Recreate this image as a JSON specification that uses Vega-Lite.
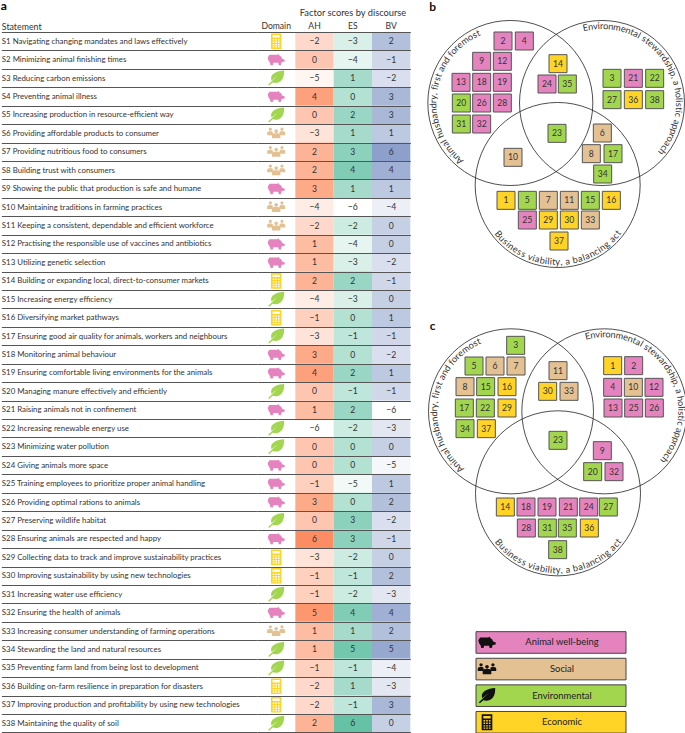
{
"$schema":"https://vega.github.io/schema/vega-lite/v6.json",
"padding":0,
"background":"white",
"spacing":11,
"config":{"view":{"stroke":null},"text":{"font":"Lato"},"font":"Lato"},
"datasets":{
"statements":[
{"id":"S1","statement":"S1 Navigating changing mandates and laws effectively","domain":"Economic"},
{"id":"S2","statement":"S2 Minimizing animal finishing times","domain":"Animal well-being"},
{"id":"S3","statement":"S3 Reducing carbon emissions","domain":"Environmental"},
{"id":"S4","statement":"S4 Preventing animal illness","domain":"Animal well-being"},
{"id":"S5","statement":"S5 Increasing production in resource-efficient way","domain":"Environmental"},
{"id":"S6","statement":"S6 Providing affordable products to consumer","domain":"Social"},
{"id":"S7","statement":"S7 Providing nutritious food to consumers","domain":"Social"},
{"id":"S8","statement":"S8 Building trust with consumers","domain":"Social"},
{"id":"S9","statement":"S9 Showing the public that production is safe and humane","domain":"Animal well-being"},
{"id":"S10","statement":"S10 Maintaining traditions in farming practices","domain":"Social"},
{"id":"S11","statement":"S11 Keeping a consistent, dependable and efficient workforce","domain":"Social"},
{"id":"S12","statement":"S12 Practising the responsible use of vaccines and antibiotics","domain":"Animal well-being"},
{"id":"S13","statement":"S13 Utilizing genetic selection","domain":"Animal well-being"},
{"id":"S14","statement":"S14 Building or expanding local, direct-to-consumer markets","domain":"Economic"},
{"id":"S15","statement":"S15 Increasing energy efficiency","domain":"Environmental"},
{"id":"S16","statement":"S16 Diversifying market pathways","domain":"Economic"},
{"id":"S17","statement":"S17 Ensuring good air quality for animals, workers and neighbours","domain":"Environmental"},
{"id":"S18","statement":"S18 Monitoring animal behaviour","domain":"Animal well-being"},
{"id":"S19","statement":"S19 Ensuring comfortable living environments for the animals","domain":"Animal well-being"},
{"id":"S20","statement":"S20 Managing manure effectively and efficiently","domain":"Environmental"},
{"id":"S21","statement":"S21 Raising animals not in confinement","domain":"Animal well-being"},
{"id":"S22","statement":"S22 Increasing renewable energy use","domain":"Environmental"},
{"id":"S23","statement":"S23 Minimizing water pollution","domain":"Environmental"},
{"id":"S24","statement":"S24 Giving animals more space","domain":"Animal well-being"},
{"id":"S25","statement":"S25 Training employees to prioritize proper animal handling","domain":"Animal well-being"},
{"id":"S26","statement":"S26 Providing optimal rations to animals","domain":"Animal well-being"},
{"id":"S27","statement":"S27 Preserving wildlife habitat","domain":"Environmental"},
{"id":"S28","statement":"S28 Ensuring animals are respected and happy","domain":"Animal well-being"},
{"id":"S29","statement":"S29 Collecting data to track and improve sustainability practices","domain":"Economic"},
{"id":"S30","statement":"S30 Improving sustainability by using new technologies","domain":"Economic"},
{"id":"S31","statement":"S31 Increasing water use efficiency","domain":"Environmental"},
{"id":"S32","statement":"S32 Ensuring the health of animals","domain":"Animal well-being"},
{"id":"S33","statement":"S33 Increasing consumer understanding of farming operations","domain":"Social"},
{"id":"S34","statement":"S34 Stewarding the land and natural resources","domain":"Environmental"},
{"id":"S35","statement":"S35 Preventing farm land from being lost to development","domain":"Environmental"},
{"id":"S36","statement":"S36 Building on-farm resilience in preparation for disasters","domain":"Economic"},
{"id":"S37","statement":"S37 Improving production and profitability by using new technologies","domain":"Economic"},
{"id":"S38","statement":"S38 Maintaining the quality of soil","domain":"Environmental"}
],
"scores":[
{"id":"S1","discourse":"AH","score":-2},{"id":"S1","discourse":"ES","score":-3},{"id":"S1","discourse":"BV","score":2},
{"id":"S2","discourse":"AH","score":0},{"id":"S2","discourse":"ES","score":-4},{"id":"S2","discourse":"BV","score":-1},
{"id":"S3","discourse":"AH","score":-5},{"id":"S3","discourse":"ES","score":1},{"id":"S3","discourse":"BV","score":-2},
{"id":"S4","discourse":"AH","score":4},{"id":"S4","discourse":"ES","score":0},{"id":"S4","discourse":"BV","score":3},
{"id":"S5","discourse":"AH","score":0},{"id":"S5","discourse":"ES","score":2},{"id":"S5","discourse":"BV","score":3},
{"id":"S6","discourse":"AH","score":-3},{"id":"S6","discourse":"ES","score":1},{"id":"S6","discourse":"BV","score":1},
{"id":"S7","discourse":"AH","score":2},{"id":"S7","discourse":"ES","score":3},{"id":"S7","discourse":"BV","score":6},
{"id":"S8","discourse":"AH","score":2},{"id":"S8","discourse":"ES","score":4},{"id":"S8","discourse":"BV","score":4},
{"id":"S9","discourse":"AH","score":3},{"id":"S9","discourse":"ES","score":1},{"id":"S9","discourse":"BV","score":1},
{"id":"S10","discourse":"AH","score":-4},{"id":"S10","discourse":"ES","score":-6},{"id":"S10","discourse":"BV","score":-4},
{"id":"S11","discourse":"AH","score":-2},{"id":"S11","discourse":"ES","score":-2},{"id":"S11","discourse":"BV","score":0},
{"id":"S12","discourse":"AH","score":1},{"id":"S12","discourse":"ES","score":-4},{"id":"S12","discourse":"BV","score":0},
{"id":"S13","discourse":"AH","score":1},{"id":"S13","discourse":"ES","score":-3},{"id":"S13","discourse":"BV","score":-2},
{"id":"S14","discourse":"AH","score":2},{"id":"S14","discourse":"ES","score":2},{"id":"S14","discourse":"BV","score":-1},
{"id":"S15","discourse":"AH","score":-4},{"id":"S15","discourse":"ES","score":-3},{"id":"S15","discourse":"BV","score":0},
{"id":"S16","discourse":"AH","score":-1},{"id":"S16","discourse":"ES","score":0},{"id":"S16","discourse":"BV","score":1},
{"id":"S17","discourse":"AH","score":-3},{"id":"S17","discourse":"ES","score":-1},{"id":"S17","discourse":"BV","score":-1},
{"id":"S18","discourse":"AH","score":3},{"id":"S18","discourse":"ES","score":0},{"id":"S18","discourse":"BV","score":-2},
{"id":"S19","discourse":"AH","score":4},{"id":"S19","discourse":"ES","score":2},{"id":"S19","discourse":"BV","score":1},
{"id":"S20","discourse":"AH","score":0},{"id":"S20","discourse":"ES","score":-1},{"id":"S20","discourse":"BV","score":-1},
{"id":"S21","discourse":"AH","score":1},{"id":"S21","discourse":"ES","score":2},{"id":"S21","discourse":"BV","score":-6},
{"id":"S22","discourse":"AH","score":-6},{"id":"S22","discourse":"ES","score":-2},{"id":"S22","discourse":"BV","score":-3},
{"id":"S23","discourse":"AH","score":0},{"id":"S23","discourse":"ES","score":0},{"id":"S23","discourse":"BV","score":0},
{"id":"S24","discourse":"AH","score":0},{"id":"S24","discourse":"ES","score":0},{"id":"S24","discourse":"BV","score":-5},
{"id":"S25","discourse":"AH","score":-1},{"id":"S25","discourse":"ES","score":-5},{"id":"S25","discourse":"BV","score":1},
{"id":"S26","discourse":"AH","score":3},{"id":"S26","discourse":"ES","score":0},{"id":"S26","discourse":"BV","score":2},
{"id":"S27","discourse":"AH","score":0},{"id":"S27","discourse":"ES","score":3},{"id":"S27","discourse":"BV","score":-2},
{"id":"S28","discourse":"AH","score":6},{"id":"S28","discourse":"ES","score":3},{"id":"S28","discourse":"BV","score":-1},
{"id":"S29","discourse":"AH","score":-3},{"id":"S29","discourse":"ES","score":-2},{"id":"S29","discourse":"BV","score":0},
{"id":"S30","discourse":"AH","score":-1},{"id":"S30","discourse":"ES","score":-1},{"id":"S30","discourse":"BV","score":2},
{"id":"S31","discourse":"AH","score":-1},{"id":"S31","discourse":"ES","score":-2},{"id":"S31","discourse":"BV","score":-3},
{"id":"S32","discourse":"AH","score":5},{"id":"S32","discourse":"ES","score":4},{"id":"S32","discourse":"BV","score":4},
{"id":"S33","discourse":"AH","score":1},{"id":"S33","discourse":"ES","score":1},{"id":"S33","discourse":"BV","score":2},
{"id":"S34","discourse":"AH","score":1},{"id":"S34","discourse":"ES","score":5},{"id":"S34","discourse":"BV","score":5},
{"id":"S35","discourse":"AH","score":-1},{"id":"S35","discourse":"ES","score":-1},{"id":"S35","discourse":"BV","score":-4},
{"id":"S36","discourse":"AH","score":-2},{"id":"S36","discourse":"ES","score":1},{"id":"S36","discourse":"BV","score":-3},
{"id":"S37","discourse":"AH","score":-2},{"id":"S37","discourse":"ES","score":-1},{"id":"S37","discourse":"BV","score":3},
{"id":"S38","discourse":"AH","score":2},{"id":"S38","discourse":"ES","score":6},{"id":"S38","discourse":"BV","score":0}
],
"domains":[{"domain":"Animal well-being"},{"domain":"Social"},{"domain":"Environmental"},{"domain":"Economic"}],
"arcLabels":[
{"circle":"AH","ch":"A","deg":221.5},{"circle":"AH","ch":"n","deg":225.7},{"circle":"AH","ch":"i","deg":228.6},{"circle":"AH","ch":"m","deg":232.5},{"circle":"AH","ch":"a","deg":237.4},{"circle":"AH","ch":"l","deg":240.2},
{"circle":"AH","ch":"h","deg":245.0},{"circle":"AH","ch":"u","deg":248.9},{"circle":"AH","ch":"s","deg":252.6},{"circle":"AH","ch":"b","deg":256.3},{"circle":"AH","ch":"a","deg":260.1},{"circle":"AH","ch":"n","deg":264.0},{"circle":"AH","ch":"d","deg":267.9},{"circle":"AH","ch":"r","deg":271.1},{"circle":"AH","ch":"y","deg":274.1},{"circle":"AH","ch":",","deg":276.8},
{"circle":"AH","ch":"f","deg":280.9},{"circle":"AH","ch":"i","deg":283.0},{"circle":"AH","ch":"r","deg":285.2},{"circle":"AH","ch":"s","deg":288.2},{"circle":"AH","ch":"t","deg":291.3},
{"circle":"AH","ch":"a","deg":296.4},{"circle":"AH","ch":"n","deg":300.2},{"circle":"AH","ch":"d","deg":304.1},
{"circle":"AH","ch":"f","deg":309.2},{"circle":"AH","ch":"o","deg":312.4},{"circle":"AH","ch":"r","deg":315.6},{"circle":"AH","ch":"e","deg":318.8},{"circle":"AH","ch":"m","deg":323.7},{"circle":"AH","ch":"o","deg":328.6},{"circle":"AH","ch":"s","deg":332.3},{"circle":"AH","ch":"t","deg":335.3},
{"circle":"ES","ch":"E","deg":347.5},{"circle":"ES","ch":"n","deg":351.4},{"circle":"ES","ch":"v","deg":355.0},{"circle":"ES","ch":"i","deg":357.6},{"circle":"ES","ch":"r","deg":359.7},{"circle":"ES","ch":"o","deg":2.8},{"circle":"ES","ch":"n","deg":6.6},{"circle":"ES","ch":"m","deg":11.3},{"circle":"ES","ch":"e","deg":16.1},{"circle":"ES","ch":"n","deg":19.9},{"circle":"ES","ch":"t","deg":23.0},{"circle":"ES","ch":"a","deg":26.1},{"circle":"ES","ch":"l","deg":28.9},
{"circle":"ES","ch":"s","deg":33.3},{"circle":"ES","ch":"t","deg":36.3},{"circle":"ES","ch":"e","deg":39.4},{"circle":"ES","ch":"w","deg":43.9},{"circle":"ES","ch":"a","deg":48.5},{"circle":"ES","ch":"r","deg":51.6},{"circle":"ES","ch":"d","deg":54.7},{"circle":"ES","ch":"s","deg":58.3},{"circle":"ES","ch":"h","deg":61.9},{"circle":"ES","ch":"i","deg":64.7},{"circle":"ES","ch":"p","deg":67.4},{"circle":"ES","ch":",","deg":70.2},
{"circle":"ES","ch":"a","deg":74.9},
{"circle":"ES","ch":"h","deg":80.5},{"circle":"ES","ch":"o","deg":84.2},{"circle":"ES","ch":"l","deg":87.0},{"circle":"ES","ch":"i","deg":88.8},{"circle":"ES","ch":"s","deg":91.4},{"circle":"ES","ch":"t","deg":94.4},{"circle":"ES","ch":"i","deg":96.5},{"circle":"ES","ch":"c","deg":99.1},
{"circle":"ES","ch":"a","deg":104.6},{"circle":"ES","ch":"p","deg":108.3},{"circle":"ES","ch":"p","deg":112.1},{"circle":"ES","ch":"r","deg":115.2},{"circle":"ES","ch":"o","deg":118.3},{"circle":"ES","ch":"a","deg":122.1},{"circle":"ES","ch":"c","deg":125.7},{"circle":"ES","ch":"h","deg":129.3},
{"circle":"BV","ch":"B","deg":230.4},{"circle":"BV","ch":"u","deg":226.3},{"circle":"BV","ch":"s","deg":222.6},{"circle":"BV","ch":"i","deg":220.0},{"circle":"BV","ch":"n","deg":217.2},{"circle":"BV","ch":"e","deg":213.3},{"circle":"BV","ch":"s","deg":209.7},{"circle":"BV","ch":"s","deg":206.2},
{"circle":"BV","ch":"v","deg":200.8},{"circle":"BV","ch":"i","deg":198.2},{"circle":"BV","ch":"a","deg":195.4},{"circle":"BV","ch":"b","deg":191.5},{"circle":"BV","ch":"i","deg":188.7},{"circle":"BV","ch":"l","deg":186.9},{"circle":"BV","ch":"i","deg":185.1},{"circle":"BV","ch":"t","deg":182.9},{"circle":"BV","ch":"y","deg":180.0},{"circle":"BV","ch":",","deg":177.3},
{"circle":"BV","ch":"a","deg":172.6},
{"circle":"BV","ch":"b","deg":166.9},{"circle":"BV","ch":"a","deg":163.1},{"circle":"BV","ch":"l","deg":160.2},{"circle":"BV","ch":"a","deg":157.4},{"circle":"BV","ch":"n","deg":153.6},{"circle":"BV","ch":"c","deg":150.0},{"circle":"BV","ch":"i","deg":147.3},{"circle":"BV","ch":"n","deg":144.5},{"circle":"BV","ch":"g","deg":140.6},
{"circle":"BV","ch":"a","deg":134.9},{"circle":"BV","ch":"c","deg":131.3},{"circle":"BV","ch":"t","deg":128.3}
],
"tilesB":[
{"num":2,"x":243,"y":120,"domain":"Animal well-being"},{"num":4,"x":307,"y":120,"domain":"Animal well-being"},{"num":9,"x":179,"y":181,"domain":"Animal well-being"},{"num":12,"x":241,"y":181,"domain":"Animal well-being"},{"num":13,"x":117,"y":244,"domain":"Animal well-being"},{"num":18,"x":179,"y":244,"domain":"Animal well-being"},{"num":19,"x":241,"y":244,"domain":"Animal well-being"},{"num":20,"x":118,"y":306,"domain":"Environmental"},{"num":26,"x":179,"y":306,"domain":"Animal well-being"},{"num":28,"x":241,"y":306,"domain":"Animal well-being"},{"num":31,"x":118,"y":369,"domain":"Environmental"},{"num":32,"x":179,"y":369,"domain":"Animal well-being"},
{"num":14,"x":408,"y":188,"domain":"Economic"},{"num":24,"x":375,"y":249,"domain":"Animal well-being"},{"num":35,"x":436,"y":249,"domain":"Environmental"},
{"num":3,"x":570,"y":232,"domain":"Environmental"},{"num":21,"x":634,"y":232,"domain":"Animal well-being"},{"num":22,"x":698,"y":232,"domain":"Environmental"},{"num":27,"x":570,"y":296,"domain":"Environmental"},{"num":36,"x":634,"y":296,"domain":"Economic"},{"num":38,"x":698,"y":296,"domain":"Environmental"},
{"num":23,"x":405,"y":397,"domain":"Environmental"},{"num":10,"x":273,"y":469,"domain":"Social"},
{"num":6,"x":541,"y":396,"domain":"Social"},{"num":8,"x":508,"y":458,"domain":"Social"},{"num":17,"x":573,"y":458,"domain":"Environmental"},{"num":34,"x":542,"y":519,"domain":"Environmental"},
{"num":1,"x":252,"y":598,"domain":"Economic"},{"num":5,"x":316,"y":598,"domain":"Environmental"},{"num":7,"x":379,"y":598,"domain":"Social"},{"num":11,"x":442,"y":598,"domain":"Social"},{"num":15,"x":505,"y":598,"domain":"Environmental"},{"num":16,"x":568,"y":598,"domain":"Economic"},
{"num":25,"x":316,"y":657,"domain":"Animal well-being"},{"num":29,"x":379,"y":657,"domain":"Economic"},{"num":30,"x":442,"y":657,"domain":"Economic"},{"num":33,"x":505,"y":657,"domain":"Social"},{"num":37,"x":411,"y":720,"domain":"Economic"}
],
"tilesC":[
{"num":3,"x":281,"y":103,"domain":"Environmental"},{"num":5,"x":156,"y":165,"domain":"Environmental"},{"num":6,"x":219,"y":165,"domain":"Social"},{"num":7,"x":282,"y":165,"domain":"Social"},{"num":8,"x":129,"y":227,"domain":"Social"},{"num":15,"x":191,"y":227,"domain":"Environmental"},{"num":16,"x":255,"y":227,"domain":"Economic"},{"num":17,"x":127,"y":291,"domain":"Environmental"},{"num":22,"x":190,"y":291,"domain":"Environmental"},{"num":29,"x":255,"y":291,"domain":"Economic"},{"num":34,"x":129,"y":353,"domain":"Environmental"},{"num":37,"x":193,"y":353,"domain":"Economic"},
{"num":11,"x":408,"y":179,"domain":"Social"},{"num":30,"x":377,"y":241,"domain":"Economic"},{"num":33,"x":441,"y":241,"domain":"Social"},
{"num":1,"x":572,"y":164,"domain":"Economic"},{"num":2,"x":635,"y":164,"domain":"Animal well-being"},{"num":4,"x":572,"y":229,"domain":"Animal well-being"},{"num":10,"x":634,"y":229,"domain":"Social"},{"num":12,"x":696,"y":229,"domain":"Animal well-being"},{"num":13,"x":573,"y":291,"domain":"Animal well-being"},{"num":25,"x":635,"y":291,"domain":"Animal well-being"},{"num":26,"x":697,"y":291,"domain":"Animal well-being"},
{"num":23,"x":408,"y":388,"domain":"Environmental"},{"num":9,"x":541,"y":419,"domain":"Animal well-being"},{"num":20,"x":512,"y":482,"domain":"Environmental"},{"num":32,"x":576,"y":482,"domain":"Animal well-being"},
{"num":14,"x":250,"y":588,"domain":"Economic"},{"num":18,"x":312,"y":588,"domain":"Animal well-being"},{"num":19,"x":375,"y":588,"domain":"Animal well-being"},{"num":21,"x":439,"y":588,"domain":"Animal well-being"},{"num":24,"x":500,"y":588,"domain":"Animal well-being"},{"num":27,"x":559,"y":588,"domain":"Environmental"},
{"num":28,"x":313,"y":651,"domain":"Animal well-being"},{"num":31,"x":376,"y":651,"domain":"Environmental"},{"num":35,"x":436,"y":651,"domain":"Environmental"},{"num":36,"x":502,"y":651,"domain":"Economic"},{"num":38,"x":407,"y":716,"domain":"Environmental"}
]
},
"hconcat":[
{
"spacing":-2,
"vconcat":[
{"width":1,"height":1,"data":{"values":[]},"mark":"point"},
{
"width":153.33,
"height":700.4,
"title":{"text":"a","anchor":"start","frame":"bounds","font":"Lato","fontSize":12,"fontWeight":"bold","offset":-5},
"data":{"name":"scores"},
"transform":[{"lookup":"id","from":{"data":{"name":"statements"},"key":"id","fields":["statement"]}}],
"encoding":{
"x":{"type":"nominal","scale":{"domain":["Domain","AH","ES","BV"],"paddingInner":0,"paddingOuter":0},
"axis":{"orient":"top","domain":false,"ticks":false,"labelAngle":0,"labelPadding":2,"labelFont":"Lato","labelFontSize":8.6,"labelColor":"#333","title":"Factor scores by discourse","titleFont":"Lato","titleFontWeight":"normal","titleFontSize":9.3,"titleColor":"#333","titleX":95.5,"titleY":-19.7,"titleBaseline":"middle"}},
"y":{"field":"statement","type":"nominal","sort":null,"scale":{"paddingInner":0,"paddingOuter":0},
"axis":{"orient":"left","zindex":1,"domain":false,"grid":true,"gridColor":"#555","gridWidth":1,"tickBand":"extent","tickColor":"#555","tickWidth":1,"tickSize":255.67,"labelAlign":"left","labelPadding":0,"labelLimit":0,"labelBound":false,"labelOverlap":false,"labelFont":"Lato","labelFontSize":7.85,"labelColor":"#333","title":"Statement","titleFont":"Lato","titleFontWeight":"normal","titleFontSize":8.8,"titleColor":"#333","titleAngle":0,"titleAlign":"left","titleBaseline":"middle","titleX":-255.67,"titleY":-6}}
},
"resolve":{"scale":{"color":"independent"}},
"layer":[
{"transform":[{"filter":"datum.discourse=='AH'"}],"mark":"rect","encoding":{"x":{"field":"discourse"},"color":{"field":"score","type":"quantitative","scale":{"domain":[-6,6],"range":["#ffffff","#fc8d62"],"interpolate":"rgb"},"legend":null}}},
{"transform":[{"filter":"datum.discourse=='ES'"}],"mark":"rect","encoding":{"x":{"field":"discourse"},"color":{"field":"score","type":"quantitative","scale":{"domain":[-6,6],"range":["#ffffff","#66c2a5"],"interpolate":"rgb"},"legend":null}}},
{"transform":[{"filter":"datum.discourse=='BV'"}],"mark":"rect","encoding":{"x":{"field":"discourse"},"color":{"field":"score","type":"quantitative","scale":{"domain":[-6,6],"range":["#ffffff","#8da0cb"],"interpolate":"rgb"},"legend":null}}},
{"mark":{"type":"text","font":"Lato","fontSize":8.6,"color":"#333"},"encoding":{"x":{"field":"discourse"},"text":{"field":"score","type":"quantitative","format":"d"}}},
{"data":{"name":"statements"},"mark":{"type":"point","filled":true,"opacity":1,"size":400},
"encoding":{"x":{"datum":"Domain"},
"shape":{"field":"domain","type":"nominal","legend":null,"scale":{"domain":["Animal well-being","Social","Environmental","Economic"],"range":[
"M-0.85,-0.2 L-0.68,-0.48 L0.1,-0.48 L0.28,-0.55 L0.34,-0.4 L0.5,-0.32 L0.6,-0.1 L0.86,0 L0.84,0.2 L0.56,0.24 L0.46,0.55 L0.26,0.55 L0.2,0.32 L-0.28,0.32 L-0.34,0.55 L-0.56,0.55 L-0.62,0.3 L-0.76,0.1 Z",
"M-0.74,-0.42 A0.16,0.16 0 1,0 -0.42,-0.42 A0.16,0.16 0 1,0 -0.74,-0.42 Z M0.42,-0.42 A0.16,0.16 0 1,0 0.74,-0.42 A0.16,0.16 0 1,0 0.42,-0.42 Z M-0.18,-0.22 A0.18,0.18 0 1,0 0.18,-0.22 A0.18,0.18 0 1,0 -0.18,-0.22 Z M-0.9,0.2 L-0.9,-0.05 Q-0.9,-0.2 -0.7,-0.2 L-0.46,-0.2 Q-0.32,-0.2 -0.32,-0.05 L-0.42,0.2 Z M0.9,0.2 L0.9,-0.05 Q0.9,-0.2 0.7,-0.2 L0.46,-0.2 Q0.32,-0.2 0.32,-0.05 L0.42,0.2 Z M-0.42,0.5 L-0.42,0.2 Q-0.42,0 -0.2,0 L0.2,0 Q0.42,0 0.42,0.2 L0.42,0.5 Z",
"M0.8,-0.75 C0.85,0.3 0.2,0.62 -0.36,0.44 L-0.7,0.75 L-0.8,0.65 L0.2,-0.28 L-0.46,0.26 C-0.72,-0.4 0.1,-0.72 0.8,-0.75 Z",
"M-0.52,-0.78 L0.52,-0.78 L0.52,0.78 L-0.52,0.78 Z M-0.36,-0.62 L-0.36,-0.38 L0.36,-0.38 L0.36,-0.62 Z M-0.34,-0.22 L-0.34,-0.08 L-0.18,-0.08 L-0.18,-0.22 Z M-0.08,-0.22 L-0.08,-0.08 L0.08,-0.08 L0.08,-0.22 Z M0.18,-0.22 L0.18,-0.08 L0.34,-0.08 L0.34,-0.22 Z M-0.34,0.03 L-0.34,0.17 L-0.18,0.17 L-0.18,0.03 Z M-0.08,0.03 L-0.08,0.17 L0.08,0.17 L0.08,0.03 Z M0.18,0.03 L0.18,0.17 L0.34,0.17 L0.34,0.03 Z M-0.34,0.28 L-0.34,0.42 L-0.18,0.42 L-0.18,0.28 Z M-0.08,0.28 L-0.08,0.42 L0.08,0.42 L0.08,0.28 Z M0.18,0.28 L0.18,0.42 L0.34,0.42 L0.34,0.28 Z M-0.34,0.5 L-0.34,0.64 L-0.18,0.64 L-0.18,0.5 Z M-0.08,0.5 L-0.08,0.64 L0.08,0.64 L0.08,0.5 Z M0.18,0.5 L0.18,0.64 L0.34,0.64 L0.34,0.5 Z"
]}},
"color":{"field":"domain","type":"nominal","legend":null,"scale":{"domain":["Animal well-being","Social","Environmental","Economic"],"range":["#e583bf","#e3c193","#a3d64f","#ffd426"]}}
}}
]
}]
},
{
"spacing":0,
"vconcat":[
{
"width":265,"height":310,
"encoding":{
"x":{"type":"quantitative","axis":null,"scale":{"domain":[0,795],"nice":false,"zero":false}},
"y":{"type":"quantitative","axis":null,"scale":{"domain":[930,0],"nice":false,"zero":false}}
},
"resolve":{"scale":{"angle":"independent"}},
"layer":[
{"data":{"values":[{"circle":"AH","x":265,"y":306},{"circle":"ES","x":540,"y":306},{"circle":"BV","x":407,"y":552}]},"mark":{"type":"point","shape":"circle","filled":false,"size":27225,"stroke":"#222","strokeWidth":0.8,"opacity":1},"encoding":{"x":{"field":"x"},"y":{"field":"y"}}},
{"data":{"name":"arcLabels"},"transform":[{"filter":"datum.circle=='AH'"}],"mark":{"type":"text","font":"Lato","fontSize":9.2,"color":"#333","radius":77},"encoding":{"x":{"datum":265},"y":{"datum":306},"theta":{"field":"deg","type":"quantitative","stack":null,"scale":{"domain":[0,360]}},"angle":{"field":"deg","type":"quantitative","legend":null,"scale":{"domain":[0,360],"range":[0,360]}},"text":{"field":"ch"}}},
{"data":{"name":"arcLabels"},"transform":[{"filter":"datum.circle=='ES'"}],"mark":{"type":"text","font":"Lato","fontSize":9.2,"color":"#333","radius":77},"encoding":{"x":{"datum":540},"y":{"datum":306},"theta":{"field":"deg","type":"quantitative","stack":null,"scale":{"domain":[0,360]}},"angle":{"field":"deg","type":"quantitative","legend":null,"scale":{"domain":[0,360],"range":[0,360]}},"text":{"field":"ch"}}},
{"data":{"name":"arcLabels"},"transform":[{"filter":"datum.circle=='BV'"}],"mark":{"type":"text","font":"Lato","fontSize":9.2,"color":"#333","radius":77},"encoding":{"x":{"datum":407},"y":{"datum":552},"theta":{"field":"deg","type":"quantitative","stack":null,"scale":{"domain":[0,360]}},"angle":{"field":"deg","type":"quantitative","legend":null,"scale":{"domain":[0,360],"range":[-180,180]}},"text":{"field":"ch"}}},
{"data":{"name":"tilesB"},"mark":{"type":"point","shape":"square","filled":true,"size":324,"stroke":"#555","strokeWidth":1,"opacity":1},"encoding":{"x":{"field":"x"},"y":{"field":"y"},"fill":{"field":"domain","type":"nominal","legend":null,"scale":{"domain":["Animal well-being","Social","Environmental","Economic"],"range":["#e583bf","#e3c193","#a3d64f","#ffd426"]}}}},
{"data":{"name":"tilesB"},"mark":{"type":"text","font":"Lato","fontSize":8.6,"color":"#333"},"encoding":{"x":{"field":"x"},"y":{"field":"y"},"text":{"field":"num","type":"quantitative","format":"d"}}},
{"data":{"values":[{"panel":"b"}]},"mark":{"type":"text","font":"Lato","fontSize":12,"fontWeight":"bold","color":"#111"},"encoding":{"x":{"datum":32},"y":{"datum":19},"text":{"field":"panel"}}}
]
},
{
"width":265,"height":310,
"encoding":{
"x":{"type":"quantitative","axis":null,"scale":{"domain":[0,795],"nice":false,"zero":false}},
"y":{"type":"quantitative","axis":null,"scale":{"domain":[930,0],"nice":false,"zero":false}}
},
"resolve":{"scale":{"angle":"independent"}},
"layer":[
{"data":{"values":[{"circle":"AH","x":267,"y":301},{"circle":"ES","x":547,"y":301},{"circle":"BV","x":408,"y":547}]},"mark":{"type":"point","shape":"circle","filled":false,"size":27225,"stroke":"#222","strokeWidth":0.8,"opacity":1},"encoding":{"x":{"field":"x"},"y":{"field":"y"}}},
{"data":{"name":"arcLabels"},"transform":[{"filter":"datum.circle=='AH'"}],"mark":{"type":"text","font":"Lato","fontSize":9.2,"color":"#333","radius":77},"encoding":{"x":{"datum":267},"y":{"datum":301},"theta":{"field":"deg","type":"quantitative","stack":null,"scale":{"domain":[0,360]}},"angle":{"field":"deg","type":"quantitative","legend":null,"scale":{"domain":[0,360],"range":[0,360]}},"text":{"field":"ch"}}},
{"data":{"name":"arcLabels"},"transform":[{"filter":"datum.circle=='ES'"}],"mark":{"type":"text","font":"Lato","fontSize":9.2,"color":"#333","radius":77},"encoding":{"x":{"datum":547},"y":{"datum":301},"theta":{"field":"deg","type":"quantitative","stack":null,"scale":{"domain":[0,360]}},"angle":{"field":"deg","type":"quantitative","legend":null,"scale":{"domain":[0,360],"range":[0,360]}},"text":{"field":"ch"}}},
{"data":{"name":"arcLabels"},"transform":[{"filter":"datum.circle=='BV'"}],"mark":{"type":"text","font":"Lato","fontSize":9.2,"color":"#333","radius":77},"encoding":{"x":{"datum":408},"y":{"datum":547},"theta":{"field":"deg","type":"quantitative","stack":null,"scale":{"domain":[0,360]}},"angle":{"field":"deg","type":"quantitative","legend":null,"scale":{"domain":[0,360],"range":[-180,180]}},"text":{"field":"ch"}}},
{"data":{"name":"tilesC"},"mark":{"type":"point","shape":"square","filled":true,"size":324,"stroke":"#555","strokeWidth":1,"opacity":1},"encoding":{"x":{"field":"x"},"y":{"field":"y"},"fill":{"field":"domain","type":"nominal","legend":null,"scale":{"domain":["Animal well-being","Social","Environmental","Economic"],"range":["#e583bf","#e3c193","#a3d64f","#ffd426"]}}}},
{"data":{"name":"tilesC"},"mark":{"type":"text","font":"Lato","fontSize":8.6,"color":"#333"},"encoding":{"x":{"field":"x"},"y":{"field":"y"},"text":{"field":"num","type":"quantitative","format":"d"}}},
{"data":{"values":[{"panel":"c"}]},"mark":{"type":"text","font":"Lato","fontSize":12,"fontWeight":"bold","color":"#111"},"encoding":{"x":{"datum":32},"y":{"datum":45},"text":{"field":"panel"}}}
]
},
{
"width":265,"height":113,
"data":{"name":"domains"},
"encoding":{
"y":{"field":"domain","type":"nominal","sort":null,"axis":null,"scale":{"paddingInner":0.188,"paddingOuter":0.218,"align":0.92}}
},
"layer":[
{"mark":{"type":"rect","stroke":"#444","strokeWidth":1},"encoding":{
"x":{"datum":54,"type":"quantitative","axis":null,"scale":{"domain":[0,265],"nice":false,"zero":false}},
"x2":{"datum":204},
"fill":{"field":"domain","type":"nominal","legend":null,"scale":{"domain":["Animal well-being","Social","Environmental","Economic"],"range":["#e583bf","#e3c193","#a3d64f","#ffd426"]}}}},
{"mark":{"type":"point","filled":true,"size":420,"color":"#111","opacity":1},"encoding":{
"x":{"datum":65,"type":"quantitative","axis":null},
"shape":{"field":"domain","type":"nominal","legend":null,"scale":{"domain":["Animal well-being","Social","Environmental","Economic"],"range":[
"M-0.85,-0.2 L-0.68,-0.48 L0.1,-0.48 L0.28,-0.55 L0.34,-0.4 L0.5,-0.32 L0.6,-0.1 L0.86,0 L0.84,0.2 L0.56,0.24 L0.46,0.55 L0.26,0.55 L0.2,0.32 L-0.28,0.32 L-0.34,0.55 L-0.56,0.55 L-0.62,0.3 L-0.76,0.1 Z",
"M-0.74,-0.42 A0.16,0.16 0 1,0 -0.42,-0.42 A0.16,0.16 0 1,0 -0.74,-0.42 Z M0.42,-0.42 A0.16,0.16 0 1,0 0.74,-0.42 A0.16,0.16 0 1,0 0.42,-0.42 Z M-0.18,-0.22 A0.18,0.18 0 1,0 0.18,-0.22 A0.18,0.18 0 1,0 -0.18,-0.22 Z M-0.9,0.2 L-0.9,-0.05 Q-0.9,-0.2 -0.7,-0.2 L-0.46,-0.2 Q-0.32,-0.2 -0.32,-0.05 L-0.42,0.2 Z M0.9,0.2 L0.9,-0.05 Q0.9,-0.2 0.7,-0.2 L0.46,-0.2 Q0.32,-0.2 0.32,-0.05 L0.42,0.2 Z M-0.42,0.5 L-0.42,0.2 Q-0.42,0 -0.2,0 L0.2,0 Q0.42,0 0.42,0.2 L0.42,0.5 Z",
"M0.8,-0.75 C0.85,0.3 0.2,0.62 -0.36,0.44 L-0.7,0.75 L-0.8,0.65 L0.2,-0.28 L-0.46,0.26 C-0.72,-0.4 0.1,-0.72 0.8,-0.75 Z",
"M-0.52,-0.78 L0.52,-0.78 L0.52,0.78 L-0.52,0.78 Z M-0.36,-0.62 L-0.36,-0.38 L0.36,-0.38 L0.36,-0.62 Z M-0.34,-0.22 L-0.34,-0.08 L-0.18,-0.08 L-0.18,-0.22 Z M-0.08,-0.22 L-0.08,-0.08 L0.08,-0.08 L0.08,-0.22 Z M0.18,-0.22 L0.18,-0.08 L0.34,-0.08 L0.34,-0.22 Z M-0.34,0.03 L-0.34,0.17 L-0.18,0.17 L-0.18,0.03 Z M-0.08,0.03 L-0.08,0.17 L0.08,0.17 L0.08,0.03 Z M0.18,0.03 L0.18,0.17 L0.34,0.17 L0.34,0.03 Z M-0.34,0.28 L-0.34,0.42 L-0.18,0.42 L-0.18,0.28 Z M-0.08,0.28 L-0.08,0.42 L0.08,0.42 L0.08,0.28 Z M0.18,0.28 L0.18,0.42 L0.34,0.42 L0.34,0.28 Z M-0.34,0.5 L-0.34,0.64 L-0.18,0.64 L-0.18,0.5 Z M-0.08,0.5 L-0.08,0.64 L0.08,0.64 L0.08,0.5 Z M0.18,0.5 L0.18,0.64 L0.34,0.64 L0.34,0.5 Z"
]}}}},
{"mark":{"type":"text","font":"Lato","fontSize":9.4,"color":"#222"},"encoding":{
"x":{"datum":140,"type":"quantitative","axis":null},
"text":{"field":"domain"}}}
]
}
]
}
]
}
